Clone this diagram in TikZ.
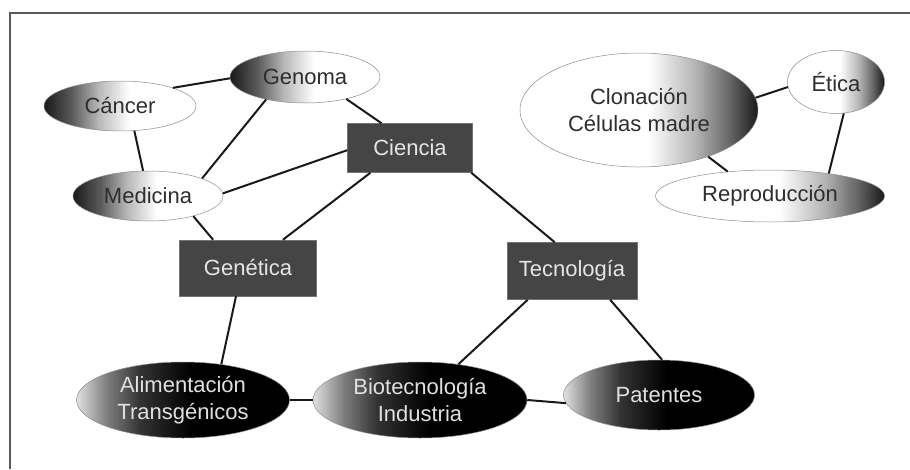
\documentclass[tikz,border=0pt]{standalone}
\usepackage{fontspec}
\setmainfont{Liberation Sans}
\usetikzlibrary{shapes.geometric}
\pgfdeclarehorizontalshading{darkL}{100bp}{color(0bp)=(black!90); color(25bp)=(black!90); color(34bp)=(black!65); color(43bp)=(black!28); color(53bp)=(white); color(100bp)=(white)}
\pgfdeclarehorizontalshading{darkR}{100bp}{color(0bp)=(white); color(25bp)=(white); color(52bp)=(white); color(62bp)=(black!30); color(69bp)=(black!60); color(75bp)=(black!90); color(100bp)=(black!90)}
\pgfdeclarehorizontalshading{lightL}{100bp}{color(0bp)=(black!12); color(25bp)=(black!12); color(32bp)=(black!50); color(40bp)=(black!80); color(52bp)=(black); color(100bp)=(black)}
\tikzset{
  ell/.style={ellipse, draw=black!45, line width=0.5pt, inner sep=0pt, align=center,
    font=\fontsize{22}{27}\selectfont},
  topL/.style={ell, shading=darkL, text=black!82},
  topR/.style={ell, shading=darkR, text=black!82},
  botE/.style={ell, shading=lightL, text=white!88!black},
  boxnode/.style={rectangle, fill=black!73, draw=black!55, line width=0.5pt, inner sep=0pt,
    text=white!90!black, font=\fontsize{22}{27}\selectfont},
  link/.style={line width=2pt, black!90},
  frameline/.style={line width=2.5pt, black!65}
}
\begin{document}
\begin{tikzpicture}[x=1pt,y=-1pt]
\useasboundingbox (0,0) rectangle (910,469);
\coordinate (fa) at (10,13);
\coordinate (fb) at (910,13);
\coordinate (fc) at (10,469);
\draw[frameline] (fb) -- (fa) -- (fc);

\node[topL, minimum width=150pt, minimum height=52pt] (gen) at (305,77) {Genoma};
\node[topL, minimum width=152pt, minimum height=50pt] (can) at (120,106) {Cáncer};
\node[topL, minimum width=150pt, minimum height=50pt] (med) at (148,196) {Medicina};
\node[topR, minimum width=238pt, minimum height=114pt] (clo) at (639,110) {Clonación\\Células madre};
\node[topR, minimum width=97pt, minimum height=63pt] (eti) at (836,82) {Ética};
\node[topR, minimum width=229pt, minimum height=52pt] (rep) at (770,196) {Reproducción};
\node[botE, minimum width=213pt, minimum height=76pt] (ali) at (183,400) {Alimentación\\Transgénicos};
\node[botE, minimum width=214pt, minimum height=76pt] (bio) at (420,400) {Biotecnología\\Industria};
\node[botE, minimum width=191pt, minimum height=70pt] (pat) at (659,395) {Patentes};

\node[boxnode, minimum width=125pt, minimum height=49pt] (cie) at (410,148) {Ciencia};
\node[boxnode, minimum width=137pt, minimum height=56pt] (gnt) at (248,268) {Genética};
\node[boxnode, minimum width=130pt, minimum height=57pt] (tec) at (572,271) {Tecnología};

\draw[link] (can.19) -- (gen.181);
\draw[link] (can.300) -- (med.101);
\draw[link] (gen.210) -- (med.18);
\draw[link] (gen.332) -- (cie.139);
\draw[link] (med.2) -- (cie.182);
\draw[link] (med.336) -- (gnt.141);
\draw[link] (cie.212) -- (gnt.39);
\draw[link] (cie.338) -- (tec.121);
\draw[link] (gnt.247) -- (ali.43);
\draw[link] (ali.east) -- (bio.west);
\draw[link] (tec.213) -- (bio.43);
\draw[link] (tec.323) -- (pat.85);
\draw[link] (bio.east) -- (pat.185);
\draw[link] (clo.6) -- (eti.186);
\draw[link] (clo.326) -- (rep.150);
\draw[link] (eti.284) -- (rep.21);
\end{tikzpicture}
\end{document}
